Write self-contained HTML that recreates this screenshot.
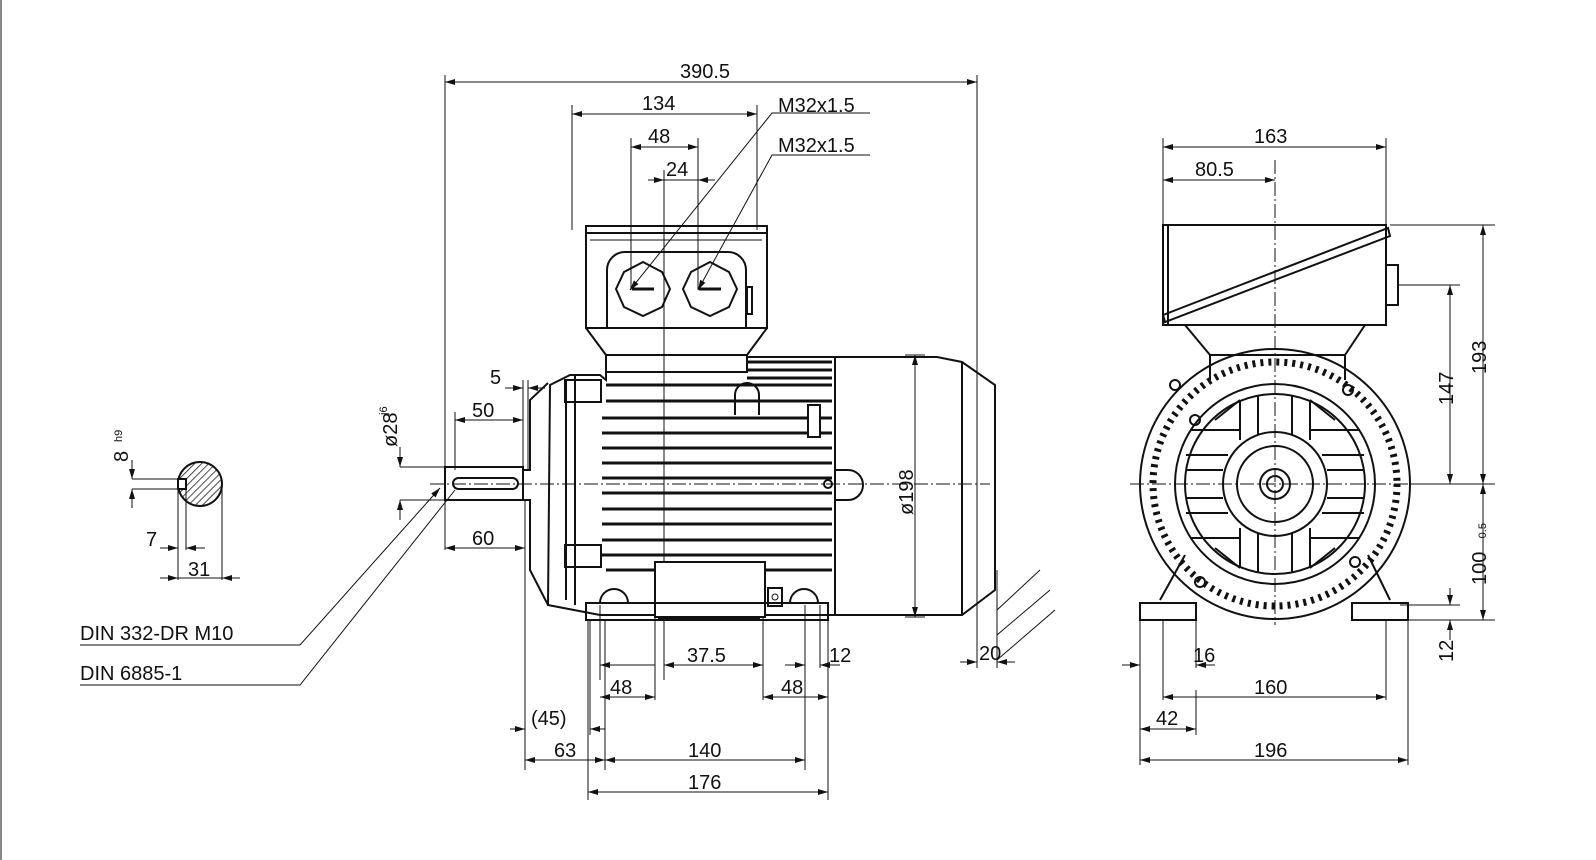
<!DOCTYPE html>
<html><head><meta charset="utf-8"><style>
html,body{margin:0;padding:0;background:#fff;}
svg{display:block}
text{font-family:"Liberation Sans",sans-serif;font-size:20px;fill:#111;}
</style></head><body>
<svg width="1596" height="860" viewBox="0 0 1596 860" xmlns="http://www.w3.org/2000/svg">
<defs>
<marker id="a" viewBox="0 0 10 6" refX="10" refY="3" markerWidth="10" markerHeight="6" orient="auto-start-reverse"><path d="M0,0 L10,3 L0,6 z" fill="#111"/></marker>
<pattern id="h" width="5" height="5" patternUnits="userSpaceOnUse" patternTransform="rotate(45)"><line x1="0" y1="0" x2="0" y2="5" stroke="#111" stroke-width="1.5"/></pattern>
</defs>
<line x1="1" y1="0" x2="1" y2="860" stroke="#111"/>
<g stroke="#111" fill="none" stroke-width="1">
<line x1="430" y1="484" x2="990" y2="484" stroke-dasharray="14,3,2,3"/>
<line x1="1130" y1="484" x2="1420" y2="484" stroke-dasharray="14,3,2,3"/>
<line x1="1275" y1="160" x2="1275" y2="625" stroke-dasharray="14,3,2,3"/>
<line x1="664" y1="170" x2="664" y2="680"/>
<line x1="445" y1="75" x2="445" y2="550"/><line x1="977" y1="75" x2="977" y2="668"/>
<line x1="572" y1="105" x2="572" y2="230"/><line x1="757" y1="105" x2="757" y2="230"/>
<line x1="631" y1="138" x2="631" y2="290"/><line x1="698" y1="138" x2="698" y2="290"/>
<line x1="445" y1="82" x2="977" y2="82" marker-start="url(#a)" marker-end="url(#a)"/>
<line x1="572" y1="114" x2="757" y2="114" marker-start="url(#a)" marker-end="url(#a)"/>
<line x1="631" y1="147" x2="698" y2="147" marker-start="url(#a)" marker-end="url(#a)"/>
<line x1="648" y1="180" x2="664" y2="180" marker-end="url(#a)"/><line x1="715" y1="180" x2="698" y2="180" marker-end="url(#a)"/><line x1="664" y1="180" x2="698" y2="180"/>
<polyline points="870,113 772,113 630,290" marker-end="url(#a)"/>
<polyline points="870,155 772,155 698,290" marker-end="url(#a)"/>
<rect x="586" y="226" width="181" height="102" stroke-width="2"/>
<line x1="586" y1="233" x2="767" y2="233" stroke-width="2"/>
<line x1="590" y1="240" x2="762" y2="240"/>
<path d="M607,328 V270 a18,18 0 0 1 18,-18 H728 a18,18 0 0 1 18,18 V328" stroke-width="2"/>
<polygon points="643,262 662,272 670,289 662,307 643,316 624,307 616,289 624,272" stroke-width="2"/>
<polygon points="710,262 729,272 737,289 729,307 710,316 691,307 683,289 691,272" stroke-width="2"/>
<line x1="632" y1="289" x2="654" y2="289" stroke-width="3"/><line x1="699" y1="289" x2="721" y2="289" stroke-width="3"/>
<rect x="747" y="287" width="5" height="27" stroke-width="2"/>
<path d="M586,328 L606,355 V380 M767,328 L747,355 V372 M606,355 H747" stroke-width="2"/>
<path d="M550,385 L570,375 H600 L606,380 V372 H747 V357 H835 V615 H600 L548,605 Z" stroke-width="2"/>
<g stroke-width="3">
<line x1="602" y1="418" x2="832" y2="418"/><line x1="602" y1="433" x2="832" y2="433"/><line x1="602" y1="448" x2="832" y2="448"/><line x1="602" y1="463" x2="832" y2="463"/><line x1="602" y1="478" x2="832" y2="478"/><line x1="602" y1="493" x2="832" y2="493"/><line x1="602" y1="509" x2="832" y2="509"/><line x1="602" y1="524" x2="832" y2="524"/><line x1="602" y1="540" x2="832" y2="540"/><line x1="602" y1="555" x2="832" y2="555"/><line x1="606" y1="401" x2="832" y2="401"/><line x1="606" y1="385" x2="832" y2="385"/>
<line x1="747" y1="362" x2="832" y2="362"/><line x1="747" y1="370" x2="832" y2="370"/><line x1="747" y1="378" x2="832" y2="378"/>
<line x1="606" y1="570" x2="832" y2="570"/>
</g>
<rect x="565" y="380" width="36" height="22" stroke-width="2"/><rect x="565" y="545" width="36" height="22" stroke-width="2"/>
<path d="M566,380 V600 M575,375 V605" stroke-width="2"/>
<path d="M548,383 L530,400 V470 H523 V500 H530 V570 L548,605" stroke-width="2"/>
<path d="M735,415 V395 a12,12 0 0 1 24,0 V415" stroke-width="2"/>
<rect x="655" y="562" width="110" height="55" stroke-width="2" fill="#fff"/>
<rect x="768" y="588" width="14" height="18" stroke-width="2"/><circle cx="775" cy="597" r="3"/>
<rect x="808" y="405" width="12" height="32" stroke-width="2" fill="#fff"/>
<path d="M835,357 H937 L962,362 L995,385 V590 L962,615 H835" stroke-width="2"/>
<line x1="962" y1="362" x2="962" y2="615" stroke-width="2"/>
<path d="M835,470 H848 a14,14 0 0 1 0,30 H835" stroke-width="2"/>
<circle cx="828" cy="484" r="4" stroke-width="2"/>
<rect x="586" y="603" width="242" height="17" stroke-width="2"/>
<path d="M600,603 a14,14 0 0 1 28,0 M790,603 a14,14 0 0 1 28,0" stroke-width="2"/>
<line x1="658" y1="618" x2="760" y2="618" stroke-width="4"/>
<line x1="600" y1="605" x2="600" y2="680"/><line x1="655" y1="618" x2="655" y2="700"/><line x1="763" y1="618" x2="763" y2="700"/>
<line x1="805" y1="605" x2="805" y2="770"/><line x1="820" y1="605" x2="820" y2="668"/><line x1="828" y1="605" x2="828" y2="800"/>
<line x1="588" y1="620" x2="588" y2="800"/><line x1="605" y1="620" x2="605" y2="770"/><line x1="590" y1="620" x2="590" y2="735"/>
<line x1="525" y1="500" x2="525" y2="770"/>
<rect x="445" y="467" width="78" height="33" stroke-width="2"/>
<rect x="453" y="478" width="65" height="11" rx="5.5" stroke-width="2"/>
<line x1="400" y1="467" x2="445" y2="467"/><line x1="400" y1="500" x2="445" y2="500"/>
<line x1="400" y1="447" x2="400" y2="467" marker-end="url(#a)"/><line x1="400" y1="520" x2="400" y2="500" marker-end="url(#a)"/>
<line x1="455" y1="412" x2="455" y2="470"/><line x1="523" y1="380" x2="523" y2="470"/><line x1="528" y1="380" x2="528" y2="470"/>
<line x1="455" y1="420" x2="523" y2="420" marker-start="url(#a)" marker-end="url(#a)"/>
<line x1="505" y1="388" x2="523" y2="388" marker-end="url(#a)"/><line x1="545" y1="388" x2="528" y2="388" marker-end="url(#a)"/>
<line x1="445" y1="548" x2="525" y2="548" marker-start="url(#a)" marker-end="url(#a)"/>
<polyline points="80,645 300,645 440,488" marker-end="url(#a)"/>
<polyline points="80,685 300,685 455,490"/>
<circle cx="200" cy="484" r="22" fill="url(#h)" stroke-width="2"/>
<rect x="178" y="479" width="8" height="10" fill="#fff" stroke-width="2"/>
<line x1="132" y1="479" x2="178" y2="479"/><line x1="132" y1="489" x2="178" y2="489"/>
<line x1="132" y1="460" x2="132" y2="479" marker-end="url(#a)"/><line x1="132" y1="508" x2="132" y2="489" marker-end="url(#a)"/>
<line x1="178" y1="489" x2="178" y2="580"/><line x1="186" y1="489" x2="186" y2="550"/><line x1="222" y1="484" x2="222" y2="580"/>
<line x1="160" y1="548" x2="178" y2="548" marker-end="url(#a)"/><line x1="205" y1="548" x2="186" y2="548" marker-end="url(#a)"/>
<line x1="160" y1="578" x2="178" y2="578" marker-end="url(#a)"/><line x1="240" y1="578" x2="222" y2="578" marker-end="url(#a)"/><line x1="178" y1="578" x2="222" y2="578"/>
<line x1="905" y1="355" x2="925" y2="355"/><line x1="905" y1="617" x2="925" y2="617"/>
<line x1="915" y1="355" x2="915" y2="617" marker-start="url(#a)" marker-end="url(#a)"/>
<line x1="600" y1="665" x2="655" y2="665" marker-start="url(#a)"/><line x1="664" y1="665" x2="763" y2="665" marker-start="url(#a)" marker-end="url(#a)"/>
<line x1="785" y1="665" x2="805" y2="665" marker-end="url(#a)"/><line x1="840" y1="665" x2="820" y2="665" marker-end="url(#a)"/>
<line x1="600" y1="697" x2="655" y2="697" marker-start="url(#a)" marker-end="url(#a)"/>
<line x1="763" y1="697" x2="828" y2="697" marker-start="url(#a)" marker-end="url(#a)"/>
<line x1="510" y1="729" x2="525" y2="729" marker-end="url(#a)"/><line x1="605" y1="729" x2="590" y2="729" marker-end="url(#a)"/>
<line x1="525" y1="760" x2="605" y2="760" marker-start="url(#a)" marker-end="url(#a)"/>
<line x1="605" y1="760" x2="805" y2="760" marker-start="url(#a)" marker-end="url(#a)"/>
<line x1="588" y1="792" x2="828" y2="792" marker-start="url(#a)" marker-end="url(#a)"/>
<line x1="960" y1="662" x2="977" y2="662" marker-end="url(#a)"/><line x1="1015" y1="662" x2="997" y2="662" marker-end="url(#a)"/>
<line x1="997" y1="570" x2="997" y2="668"/>
<line x1="997" y1="610" x2="1040" y2="570"/><line x1="997" y1="635" x2="1050" y2="590"/><line x1="997" y1="660" x2="1055" y2="610"/>
<!-- END VIEW -->
<line x1="1163" y1="138" x2="1163" y2="225"/><line x1="1386" y1="138" x2="1386" y2="225"/>
<line x1="1163" y1="147" x2="1386" y2="147" marker-start="url(#a)" marker-end="url(#a)"/>
<line x1="1163" y1="180" x2="1275" y2="180" marker-start="url(#a)" marker-end="url(#a)"/>
<rect x="1163" y="225" width="223" height="100" stroke-width="2"/>
<line x1="1168" y1="225" x2="1168" y2="325" stroke-width="2"/>
<path d="M1163,315 L1388,228 L1390,236 L1165,322 Z" stroke-width="2"/>
<rect x="1386" y="265" width="12" height="40" stroke-width="2"/>
<path d="M1185,325 L1210,355 V380 M1365,325 L1345,355 V380 M1210,355 H1345" stroke-width="2"/>
<circle cx="1275" cy="484" r="135" stroke-width="2"/>
<circle cx="1275" cy="484" r="122" stroke-width="7" stroke-dasharray="3,5"/>
<circle cx="1275" cy="484" r="100" stroke-width="2"/>
<circle cx="1275" cy="484" r="90" stroke-width="2"/>
<circle cx="1275" cy="484" r="52" stroke-width="2"/>
<circle cx="1275" cy="484" r="38" stroke-width="2"/>
<circle cx="1275" cy="484" r="15" stroke-width="2"/>
<circle cx="1275" cy="484" r="8" stroke-width="2"/>
<g stroke-width="2">
<line x1="1190" y1="430" x2="1240" y2="430"/><line x1="1310" y1="430" x2="1360" y2="430"/>
<line x1="1186" y1="455" x2="1228" y2="455"/><line x1="1322" y1="455" x2="1364" y2="455"/>
<line x1="1186" y1="513" x2="1228" y2="513"/><line x1="1322" y1="513" x2="1364" y2="513"/>
<line x1="1190" y1="538" x2="1240" y2="538"/><line x1="1310" y1="538" x2="1360" y2="538"/>
<line x1="1186" y1="470" x2="1223" y2="470"/><line x1="1327" y1="470" x2="1364" y2="470"/>
<line x1="1186" y1="498" x2="1223" y2="498"/><line x1="1327" y1="498" x2="1364" y2="498"/>
<line x1="1258" y1="396" x2="1258" y2="435"/><line x1="1292" y1="396" x2="1292" y2="435"/>
<line x1="1258" y1="533" x2="1258" y2="572"/><line x1="1292" y1="533" x2="1292" y2="572"/>
<line x1="1240" y1="400" x2="1240" y2="440"/><line x1="1310" y1="400" x2="1310" y2="440"/>
<line x1="1240" y1="528" x2="1240" y2="568"/><line x1="1310" y1="528" x2="1310" y2="568"/>
<path d="M1215,420 L1240,400 M1335,420 L1310,400 M1215,548 L1240,568 M1335,548 L1310,568"/>
<circle cx="1195" cy="420" r="5"/><circle cx="1348" cy="390" r="5"/><circle cx="1200" cy="582" r="5"/><circle cx="1355" cy="562" r="5"/><circle cx="1175" cy="385" r="5"/>
</g>
<path d="M1160,600 L1185,555 M1390,600 L1368,555" stroke-width="2"/>
<rect x="1140" y="603" width="56" height="17" stroke-width="2" fill="#fff"/><rect x="1352" y="603" width="56" height="17" stroke-width="2" fill="#fff"/>
<line x1="1140" y1="620" x2="1140" y2="765"/><line x1="1196" y1="620" x2="1196" y2="668"/><line x1="1163" y1="620" x2="1163" y2="700"/><line x1="1196" y1="690" x2="1196" y2="735"/>
<line x1="1386" y1="620" x2="1386" y2="700"/><line x1="1408" y1="620" x2="1408" y2="765"/>
<line x1="1122" y1="665" x2="1140" y2="665" marker-end="url(#a)"/><line x1="1215" y1="665" x2="1196" y2="665" marker-end="url(#a)"/>
<line x1="1163" y1="697" x2="1386" y2="697" marker-start="url(#a)" marker-end="url(#a)"/>
<line x1="1140" y1="729" x2="1196" y2="729" marker-start="url(#a)" marker-end="url(#a)"/>
<line x1="1140" y1="760" x2="1408" y2="760" marker-start="url(#a)" marker-end="url(#a)"/>
<line x1="1390" y1="225" x2="1495" y2="225"/><line x1="1398" y1="285" x2="1460" y2="285"/><line x1="1410" y1="484" x2="1495" y2="484"/>
<line x1="1400" y1="605" x2="1460" y2="605"/><line x1="1408" y1="620" x2="1495" y2="620"/>
<line x1="1483" y1="225" x2="1483" y2="484" marker-start="url(#a)" marker-end="url(#a)"/>
<line x1="1450" y1="285" x2="1450" y2="484" marker-start="url(#a)" marker-end="url(#a)"/>
<line x1="1483" y1="484" x2="1483" y2="620" marker-start="url(#a)" marker-end="url(#a)"/>
<line x1="1450" y1="588" x2="1450" y2="605" marker-end="url(#a)"/><line x1="1450" y1="640" x2="1450" y2="620" marker-end="url(#a)"/>
</g>
<text x="680" y="78">390.5</text>
<text x="642" y="110">134</text>
<text x="648" y="143">48</text>
<text x="666" y="176">24</text>
<text x="778" y="112">M32x1.5</text>
<text x="778" y="152">M32x1.5</text>
<text x="490" y="384">5</text>
<text x="472" y="417">50</text>
<text x="472" y="545">60</text>
<text transform="translate(397,447) rotate(-90)">ø28</text>
<text transform="translate(387,415) rotate(-90)" style="font-size:11px">j6</text>
<text transform="translate(128,462) rotate(-90)">8</text>
<text transform="translate(122,442) rotate(-90)" style="font-size:11px">h9</text>
<text x="146" y="546">7</text>
<text x="188" y="576">31</text>
<text x="80" y="640">DIN 332-DR M10</text>
<text x="80" y="680">DIN 6885-1</text>
<text transform="translate(913,515) rotate(-90)">ø198</text>
<text x="687" y="662">37.5</text>
<text x="829" y="662">12</text>
<text x="610" y="694">48</text>
<text x="781" y="694">48</text>
<text x="531" y="725">(45)</text>
<text x="554" y="757">63</text>
<text x="688" y="757">140</text>
<text x="688" y="789">176</text>
<text x="979" y="660">20</text>
<text x="1254" y="143">163</text>
<text x="1195" y="176">80.5</text>
<text transform="translate(1486,374) rotate(-90)">193</text>
<text transform="translate(1453,405) rotate(-90)">147</text>
<text transform="translate(1486,585) rotate(-90)">100</text>
<text transform="translate(1486,542) rotate(-90)" style="font-size:11px">-0.5</text>
<text transform="translate(1453,662) rotate(-90)">12</text>
<text x="1193" y="662">16</text>
<text x="1254" y="694">160</text>
<text x="1156" y="725">42</text>
<text x="1254" y="757">196</text>
</svg>
</body></html>
